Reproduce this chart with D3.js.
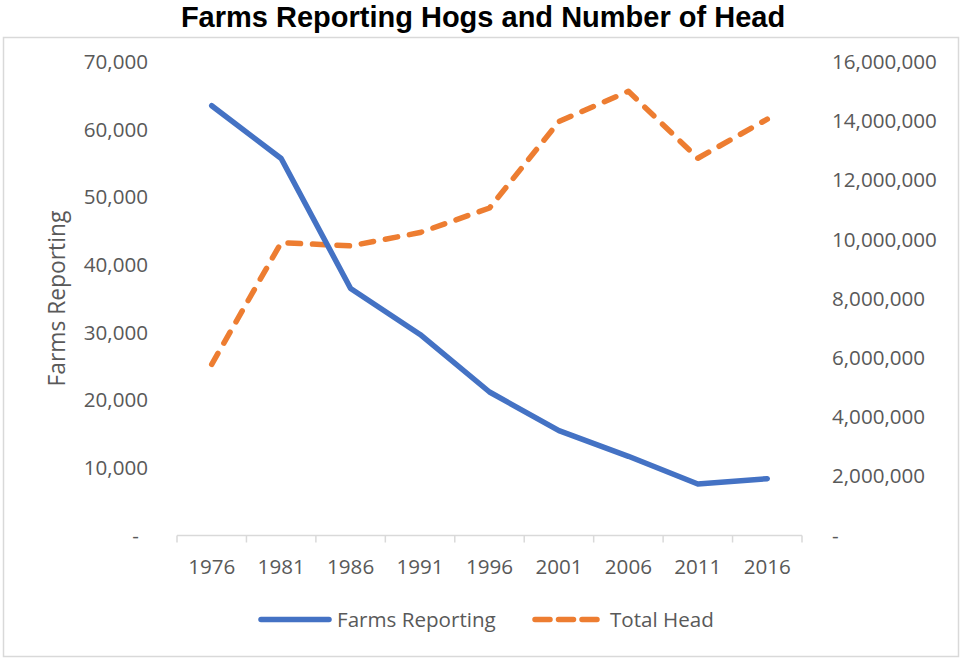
<!DOCTYPE html>
<html>
<head>
<meta charset="utf-8">
<script src="https://cdn.jsdelivr.net/npm/d3@7/dist/d3.min.js"></script>
<style>
  html, body { margin: 0; padding: 0; background: #fff; }
  svg { display: block; }
  .tick-label { font-family: "Open Sans", sans-serif; font-size: 20.6px; fill: #595959; }
</style>
</head>
<body>
<svg id="chart" width="960" height="658"></svg>
<script>
// Census years
const years = ["1976", "1981", "1986", "1991", "1996", "2001", "2006", "2011", "2016"];
// Number of farms reporting hogs
const farmsReporting = [63500, 55700, 36500, 29700, 21200, 15500, 11700, 7600, 8400];
// Total hogs on farms (head)
const totalHead = [5780000, 9890000, 9780000, 10230000, 11060000, 13980000, 15000000, 12740000, 14060000];
// Axis ticks
const leftTicks = [0, 10000, 20000, 30000, 40000, 50000, 60000, 70000];
const rightTicks = [0, 2000000, 4000000, 6000000, 8000000, 10000000, 12000000, 14000000, 16000000];

const BLUE = "#4472C4", ORANGE = "#ED7D31", GREY = "#595959", AXIS = "#D9D9D9";
const svg = d3.select("#chart");
const plot = { left: 177, right: 802, top: 61.7, bottom: 535.5 };

// Chart frame
svg.append("rect")
  .attr("x", 3.5).attr("y", 37.5).attr("width", 955).attr("height", 619)
  .attr("fill", "#fff").attr("stroke", AXIS).attr("stroke-width", 1.5);

// Title
svg.append("text")
  .attr("x", 483).attr("y", 27)
  .attr("text-anchor", "middle")
  .style("font-family", "'Liberation Sans', Arial, sans-serif")
  .style("font-weight", "bold").style("font-size", "29px").style("fill", "#000")
  .text("Farms Reporting Hogs and Number of Head");

const x = d3.scaleBand().domain(years).range([plot.left, plot.right]).paddingInner(0).paddingOuter(0);
const yL = d3.scaleLinear().domain([0, 70000]).range([plot.bottom, plot.top]);
const yR = d3.scaleLinear().domain([0, 16000000]).range([plot.bottom, plot.top]);

const fmt = v => v === 0 ? "-" : d3.format(",")(v);

// Left axis labels
svg.append("g").selectAll("text").data(leftTicks).join("text")
  .attr("class", "tick-label")
  .attr("x", d => d === 0 ? 139 : 148)
  .attr("y", d => yL(d))
  .attr("dy", "0.35em")
  .attr("text-anchor", "end")
  .text(fmt);

// Right axis labels
svg.append("g").selectAll("text").data(rightTicks).join("text")
  .attr("class", "tick-label")
  .attr("x", 832)
  .attr("y", d => yR(d))
  .attr("dy", "0.35em")
  .attr("text-anchor", "start")
  .text(fmt);

// Left axis title
svg.append("text")
  .attr("class", "tick-label")
  .style("font-size", "22.8px")
  .attr("transform", `translate(65, ${(plot.top + plot.bottom) / 2}) rotate(-90)`)
  .attr("text-anchor", "middle")
  .text("Farms Reporting");

// Category axis
const xAxis = d3.axisBottom(x).tickSize(0).tickPadding(0);
const gx = svg.append("g").attr("transform", `translate(0, ${plot.bottom})`).call(xAxis);
gx.select(".domain").remove();
gx.selectAll("text").attr("class", "tick-label").attr("y", 31).attr("dy", "0.35em")
  .style("font-family", null).style("font-size", null);
svg.append("line")
  .attr("x1", plot.left).attr("x2", plot.right)
  .attr("y1", plot.bottom).attr("y2", plot.bottom)
  .attr("stroke", AXIS).attr("stroke-width", 1.5);
const bounds = years.map(y => x(y)).concat([x(years[years.length - 1]) + x.bandwidth()]);
svg.append("g").selectAll("line").data(bounds).join("line")
  .attr("x1", d => d).attr("x2", d => d)
  .attr("y1", plot.bottom).attr("y2", plot.bottom + 7)
  .attr("stroke", AXIS).attr("stroke-width", 1.5);

const cx = d => x(d) + x.bandwidth() / 2;

// Total head (secondary axis), dashed
svg.append("path")
  .datum(years.map((y, i) => [cx(y), yR(totalHead[i])]))
  .attr("d", d3.line())
  .attr("fill", "none").attr("stroke", ORANGE).attr("stroke-width", 5.5)
  .attr("stroke-linecap", "round").attr("stroke-linejoin", "round")
  .attr("stroke-dasharray", "12.5,12");

// Farms reporting (primary axis), solid
svg.append("path")
  .datum(years.map((y, i) => [cx(y), yL(farmsReporting[i])]))
  .attr("d", d3.line())
  .attr("fill", "none").attr("stroke", BLUE).attr("stroke-width", 5.5)
  .attr("stroke-linecap", "round").attr("stroke-linejoin", "round");

// Legend
const lg = svg.append("g");
lg.append("line").attr("x1", 261).attr("x2", 329).attr("y1", 619.5).attr("y2", 619.5)
  .attr("stroke", BLUE).attr("stroke-width", 5.5).attr("stroke-linecap", "round");
lg.append("text").attr("class", "tick-label").attr("x", 337).attr("y", 619.5).attr("dy", "0.35em")
  .text("Farms Reporting");
lg.append("line").attr("x1", 535).attr("x2", 598).attr("y1", 619.5).attr("y2", 619.5)
  .attr("stroke", ORANGE).attr("stroke-width", 5.5).attr("stroke-linecap", "round")
  .attr("stroke-dasharray", "15,8.5");
lg.append("text").attr("class", "tick-label").attr("x", 610).attr("y", 619.5).attr("dy", "0.35em")
  .text("Total Head");
</script>
</body>
</html>
